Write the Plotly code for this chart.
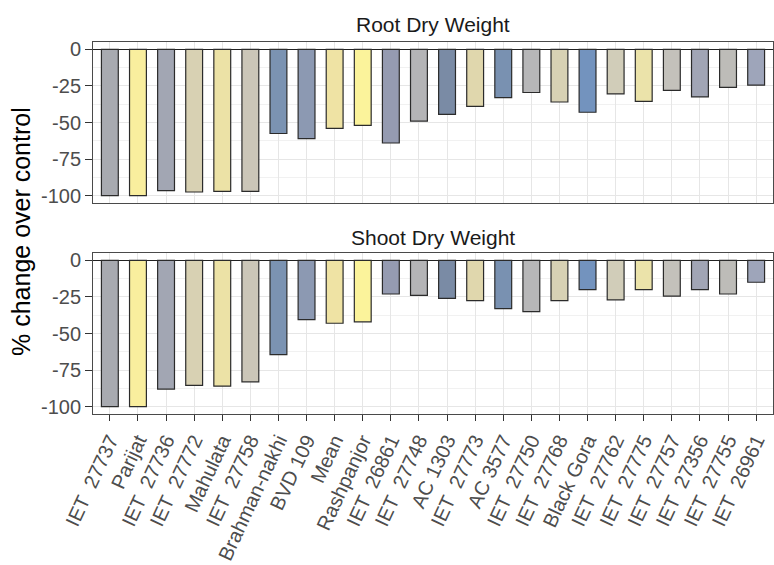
import plotly.graph_objects as go

# Genotypes in plotting order (sorted by root response)
genotypes = [
    "IET\u00a0\u00a027737", "Parijat", "IET\u00a0\u00a027736", "IET\u00a0\u00a027772",
    "Mahulata", "IET\u00a0\u00a027758", "Brahman-nakhi", "BVD 109", "Mean",
    "Rashpanjor", "IET\u00a0\u00a026861", "IET\u00a0\u00a027748", "AC 1303",
    "IET\u00a0\u00a027773", "AC 3577", "IET\u00a0\u00a027750", "IET\u00a0\u00a027768",
    "Black Gora", "IET\u00a0\u00a027762", "IET\u00a0\u00a027775", "IET\u00a0\u00a027757",
    "IET\u00a0\u00a027356", "IET\u00a0\u00a027755", "IET\u00a0\u00a026961",
]

# % change over control
root_dry_weight = [
    -100, -100, -96.5, -97.5, -97, -97, -57.5, -61, -54, -52, -64, -49,
    -44.5, -39, -33, -29.5, -36, -43, -30.5, -35.5, -28, -32.5, -26, -24.5,
]
shoot_dry_weight = [
    -100, -100, -88, -85.5, -86, -83, -64.5, -40.5, -43, -42, -23, -24,
    -26, -27.5, -33, -35, -27.5, -20, -27, -20, -24.5, -20, -23, -15,
]

# Fill colour per genotype (shared by both panels)
fill_colors = [
    "#a8aab0", "#f9ee9e", "#a2a6b3", "#d8d1b3", "#ece2a6", "#cbc6b8",
    "#7b93b2", "#8c99b2", "#efe3a4", "#fbf39b", "#959bb1", "#b4b4b6",
    "#7a8ba5", "#e0d7ad", "#7991b1", "#b7b7b8", "#d7d1b4", "#7393be",
    "#d1cdb9", "#ebe3aa", "#c3c1bb", "#a1a5b5", "#bdbcb8", "#9ea5ba",
]

panel_titles = ["Root Dry Weight", "Shoot Dry Weight"]
y_ticks = [0, -25, -50, -75, -100]
y_tick_text = ["0", "-25", "-50", "-75", "-100"]

W, H = 774, 565
FONT = "Liberation Sans, Arial, sans-serif"
GRID = "#e6e6e6"
BORDER = "#4a4a4a"

x_dom = [93 / W, 773 / W]
top_dom = [1 - 203 / H, 1 - 42 / H]
bot_dom = [1 - 414 / H, 1 - 253 / H]

fig = go.Figure()
for vals, xa, ya in [(root_dry_weight, "x", "y"), (shoot_dry_weight, "x2", "y2")]:
    fig.add_trace(go.Bar(
        x=genotypes, y=vals, xaxis=xa, yaxis=ya, width=0.6,
        marker=dict(color=fill_colors, line=dict(color="#2b2b2b", width=1.2)),
        hoverinfo="skip", showlegend=False,
    ))

common_x = dict(
    type="category", categoryorder="array", categoryarray=genotypes,
    range=[-0.6, len(genotypes) - 0.4], domain=x_dom,
    showgrid=True, gridcolor=GRID, gridwidth=1.4,
    showline=True, mirror=True, linecolor=BORDER, linewidth=1,
    zeroline=False, fixedrange=True,
)
common_y = dict(
    range=[-105, 5], tickvals=y_ticks, ticktext=y_tick_text,
    ticks="outside", ticklen=7, tickwidth=1, tickcolor="#333333",
    tickfont=dict(family=FONT, size=20, color="#4d4d4d"),
    showgrid=True, gridcolor=GRID, gridwidth=1.4,
    minor=dict(tickvals=[-87.5, -62.5, -37.5, -12.5], showgrid=True,
               gridcolor="#f1f1f1", gridwidth=0.8, ticks=""),
    zeroline=True, zerolinecolor="#222222", zerolinewidth=1.3,
    showline=True, mirror=True, linecolor=BORDER, linewidth=1,
    automargin=False, fixedrange=True,
)

fig.update_layout(
    width=W, height=H,
    margin=dict(l=0, r=0, t=0, b=0),
    paper_bgcolor="white", plot_bgcolor="white",
    bargap=0.4,
    font=dict(family=FONT, color="#1a1a1a"),
    xaxis=dict(common_x, anchor="y", showticklabels=False, ticks=""),
    xaxis2=dict(common_x, anchor="y2", showticklabels=True, ticks="outside",
                ticklen=6, tickwidth=1, tickcolor="#333333", tickangle=-65,
                tickfont=dict(family=FONT, size=20, color="#4d4d4d"),
                automargin=False),
    yaxis=dict(common_y, anchor="x", domain=top_dom),
    yaxis2=dict(common_y, anchor="x2", domain=bot_dom),
)

# Facet strip labels
x_mid = (x_dom[0] + x_dom[1]) / 2
for title, ypix in zip(panel_titles, [24, 237]):
    fig.add_annotation(
        text=title, xref="paper", yref="paper", x=x_mid, y=1 - ypix / H,
        xanchor="center", yanchor="middle", showarrow=False,
        font=dict(family=FONT, size=21, color="#1a1a1a"),
    )

# Shared y-axis title
fig.add_annotation(
    text="% change over control", xref="paper", yref="paper",
    x=21 / W, y=1 - 232 / H, xanchor="center", yanchor="middle",
    textangle=-90, showarrow=False,
    font=dict(family=FONT, size=25, color="#000000"),
)

fig.write_html("out.html")
